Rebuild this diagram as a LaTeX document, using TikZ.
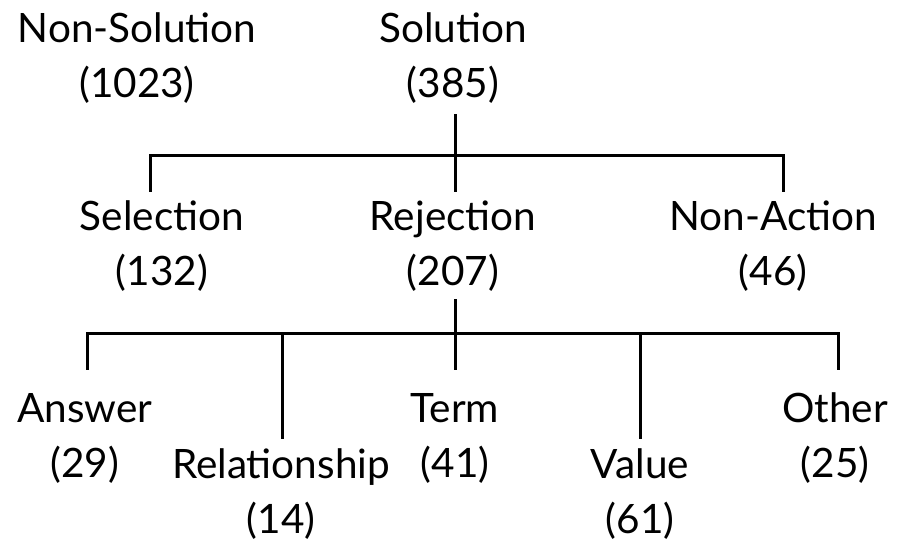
\documentclass[tikz,border=0pt]{standalone}
\usepackage{fontspec}
\setmainfont{Lato}
\begin{document}
\begin{tikzpicture}[x=1pt,y=-1pt,
  lbl/.style={inner sep=0pt,align=center,font=\fontsize{40.5}{55}\selectfont},
  ln/.style={line width=3pt,line cap=rect}]
\useasboundingbox (0,0) rectangle (897,547);
\node[lbl] (nonsol) at (137,58) {Non-Solution\\(1023)};
\node[lbl] (sol) at (453,58) {Solution\\(385)};
\node[lbl] (sel) at (162,246) {Selection\\(132)};
\node[lbl] (rej) at (453,246) {Rejection\\(207)};
\node[lbl] (nona) at (773,246) {Non-Action\\(46)};
\node[lbl] (ans) at (85,438) {Answer\\(29)};
\node[lbl] (rel) at (281,494) {Relationship\\(14)};
\node[lbl] (term) at (455,438) {Term\\(41)};
\node[lbl] (val) at (640,494) {Value\\(61)};
\node[lbl] (oth) at (835,438) {Other\\(25)};
% level 1
\coordinate (a0) at (455,115);
\coordinate (aL) at (150,155);
\coordinate (aR) at (783,155);
\coordinate (bL) at (150,190);
\coordinate (bM) at (455,190);
\coordinate (bR) at (783,190);
\draw[ln] (a0) -- (bM);
\draw[ln] (bL) -- (aL) -- (aR) -- (bR);
% level 2
\coordinate (c0) at (455,300);
\coordinate (cL) at (87,333);
\coordinate (cR) at (838,333);
\coordinate (d1) at (87,368);
\coordinate (d2) at (282,437);
\coordinate (d3) at (455,368);
\coordinate (d4) at (640,437);
\coordinate (d5) at (838,368);
\draw[ln] (c0) -- (d3);
\draw[ln] (d1) -- (cL) -- (cR) -- (d5);
\draw[ln] (d2) -- (d2|-cL);
\draw[ln] (d4) -- (d4|-cL);
\end{tikzpicture}
\end{document}
